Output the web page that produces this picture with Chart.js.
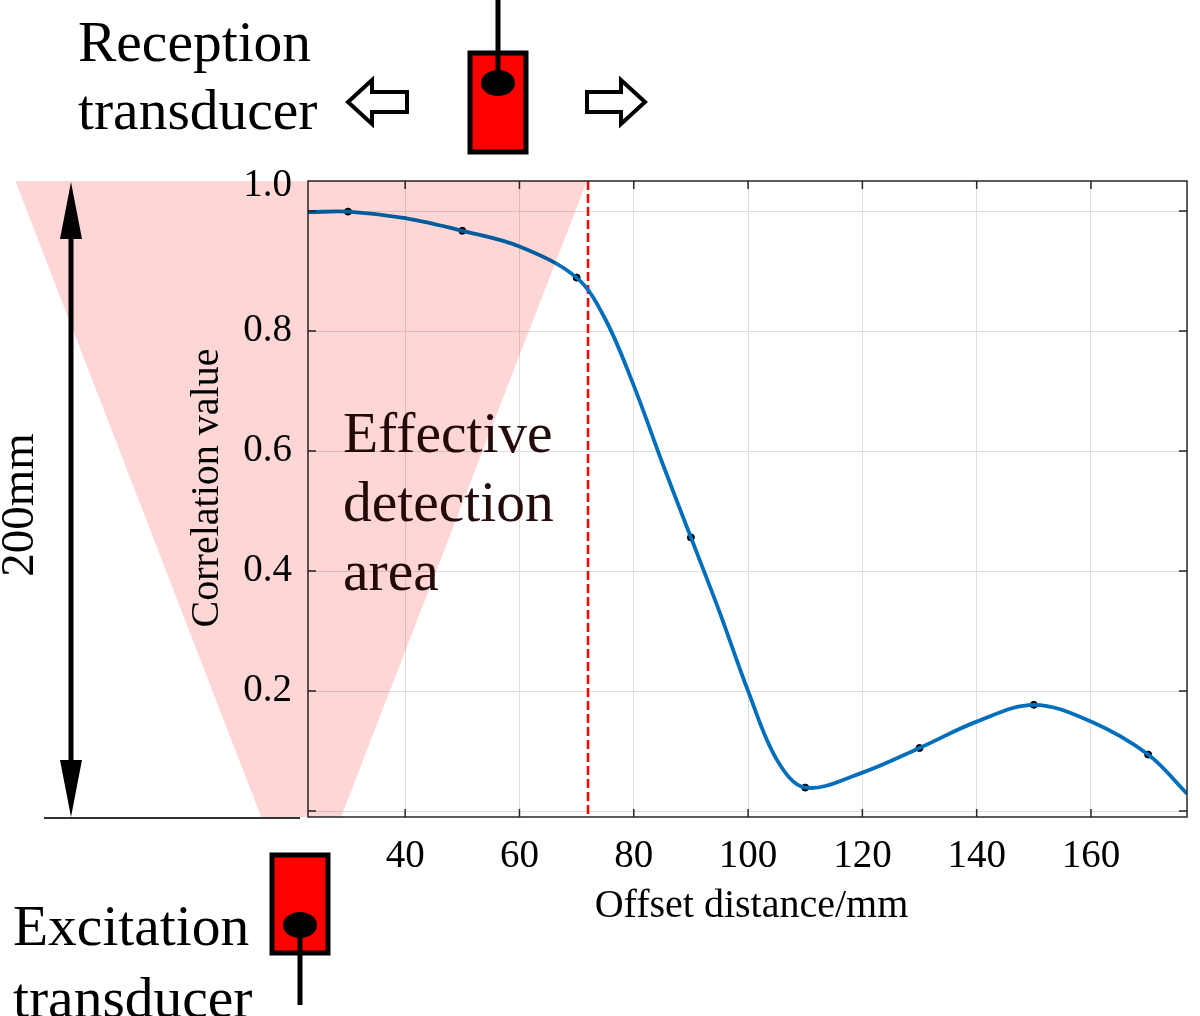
<!DOCTYPE html>
<html>
<head>
<meta charset="utf-8">
<script src="https://cdn.jsdelivr.net/npm/chart.js@4.4.0/dist/chart.umd.min.js"></script>
<style>
  body { margin: 0; background: #fff; }
  #wrap { width: 1200px; height: 1016px; }
</style>
</head>
<body>
<div id="wrap"><canvas id="myChart" width="1200" height="1016"></canvas></div>
<script>
// measured points (offset in mm, correlation value)
const offsetMm = [30, 50, 70, 90, 110, 130, 150, 170];
const correlation = [0.999, 0.967, 0.889, 0.456, 0.039, 0.105, 0.177, 0.094];

// fitted curve
const curveMm = [23, 30, 40, 50, 60, 70, 75, 80, 85, 90, 95, 100, 105, 110, 120, 130, 140, 150, 160, 170, 176.8];
const curveValue = [0.998, 0.999, 0.988, 0.967, 0.941, 0.889, 0.82, 0.709, 0.58, 0.456, 0.332, 0.2, 0.086, 0.039, 0.064, 0.105, 0.149, 0.177, 0.149, 0.094, 0.029];

const xTicks = [40, 60, 80, 100, 120, 140, 160];
const yTicks = [0, 0.2, 0.4, 0.6, 0.8, 1.0];
const yTickLabels = ['', '0.2', '0.4', '0.6', '0.8', ''];

const effectiveLimit = 72;   // mm, dashed red line
const serif = '"Liberation Serif", "Times New Roman", serif';
const axisColor = '#262626';

const drawTransducer = (ctx, x, top, bottom, dotY, lineFrom, lineTo) => {
    ctx.fillStyle = '#ff0000';
    ctx.fillRect(x - 28, top, 56, bottom - top);
    ctx.lineWidth = 5;
    ctx.strokeStyle = '#000';
    ctx.strokeRect(x - 28, top, 56, bottom - top);
    ctx.beginPath();
    ctx.moveTo(x, lineFrom);
    ctx.lineTo(x, lineTo);
    ctx.stroke();
    ctx.fillStyle = '#000';
    ctx.beginPath();
    ctx.ellipse(x, dotY, 17, 13, 0, 0, Math.PI * 2);
    ctx.fill();
}

const drawHollowArrow = (ctx, tipX, tailX, y) => {
    const dir = tailX > tipX ? 1 : -1;
    const headX = tipX + dir * 24;
    ctx.beginPath();
    ctx.moveTo(tipX, y);
    ctx.lineTo(headX, y - 22);
    ctx.lineTo(headX, y - 10);
    ctx.lineTo(tailX, y - 10);
    ctx.lineTo(tailX, y + 10);
    ctx.lineTo(headX, y + 10);
    ctx.lineTo(headX, y + 22);
    ctx.closePath();
    ctx.fillStyle = '#fff';
    ctx.fill();
    ctx.lineWidth = 4;
    ctx.lineJoin = 'miter';
    ctx.strokeStyle = '#000';
    ctx.stroke();
}

const decor = {
    id: 'decor',
    beforeDatasetsDraw(chart) {
        const {ctx, chartArea, scales} = chart;
        const x = scales.x.getPixelForValue(effectiveLimit);
        ctx.save();
        ctx.strokeStyle = '#ff0000';
        ctx.lineWidth = 2.5;
        ctx.setLineDash([9, 4]);
        ctx.beginPath();
        ctx.moveTo(x, chartArea.top);
        ctx.lineTo(x, chartArea.bottom);
        ctx.stroke();
        ctx.restore();
    },
    afterDraw(chart) {
        const {ctx, chartArea, scales} = chart;
        const {left, right, top, bottom} = chartArea;
        ctx.save();

        // axes box with inward ticks
        ctx.strokeStyle = axisColor;
        ctx.lineWidth = 1.5;
        ctx.strokeRect(left, top, right - left, bottom - top);
        ctx.beginPath();
        xTicks.forEach(v => {
            const px = scales.x.getPixelForValue(v);
            ctx.moveTo(px, bottom); ctx.lineTo(px, bottom - 8);
            ctx.moveTo(px, top); ctx.lineTo(px, top + 8);
        });
        yTicks.forEach(v => {
            const py = scales.y.getPixelForValue(v);
            ctx.moveTo(left, py); ctx.lineTo(left + 8, py);
            ctx.moveTo(right, py); ctx.lineTo(right - 8, py);
        });
        ctx.stroke();

        // the top tick label sits at the top edge
        ctx.fillStyle = '#000';
        ctx.font = '39px ' + serif;
        ctx.textAlign = 'right';
        ctx.textBaseline = 'middle';
        ctx.fillText('1.0', 292, top + 5);

        // axis titles
        ctx.textAlign = 'center';
        ctx.font = '40px ' + serif;
        ctx.fillText('Offset distance/mm', (left + right) / 2 + 4, 906);
        ctx.save();
        ctx.translate(207, 488);
        ctx.rotate(-Math.PI / 2);
        ctx.fillText('Correlation value', 0, 0);
        ctx.restore();

        // 200mm span arrow
        ctx.save();
        ctx.translate(21, 505);
        ctx.rotate(-Math.PI / 2);
        ctx.font = '47px ' + serif;
        ctx.fillText('200mm', 0, 0);
        ctx.restore();

        ctx.strokeStyle = '#000';
        ctx.lineWidth = 5;
        ctx.beginPath();
        ctx.moveTo(71, 230);
        ctx.lineTo(71, 770);
        ctx.stroke();
        ctx.fillStyle = '#000';
        ctx.beginPath();
        ctx.moveTo(71, top + 1); ctx.lineTo(60, top + 58); ctx.lineTo(82, top + 58); ctx.closePath();
        ctx.moveTo(71, bottom); ctx.lineTo(60, bottom - 57); ctx.lineTo(82, bottom - 57); ctx.closePath();
        ctx.fill();

        ctx.strokeStyle = '#333';
        ctx.lineWidth = 2;
        ctx.beginPath();
        ctx.moveTo(44, bottom + 1);
        ctx.lineTo(300, bottom + 1);
        ctx.stroke();

        // labels
        ctx.textAlign = 'left';
        ctx.textBaseline = 'alphabetic';
        ctx.font = '57.5px ' + serif;
        ctx.fillStyle = '#000';
        ctx.fillText('Reception', 78, 61);
        ctx.fillText('transducer', 78, 129);
        ctx.fillText('Excitation', 13, 945);
        ctx.fillText('transducer', 13, 1017);
        ctx.fillStyle = '#240a0a';
        ctx.fillText('Effective', 343, 452);
        ctx.fillText('detection', 343, 521);
        ctx.fillText('area', 343, 590);

        // transducers and moving arrows
        drawTransducer(ctx, 498, 53, 152, 83, 0, 83);
        drawTransducer(ctx, 300, 855, 953, 925, 925, 1005);
        drawHollowArrow(ctx, 348, 407, 102);
        drawHollowArrow(ctx, 645, 587, 102);

        // effective detection cone
        const cone = 21.8;
        ctx.globalCompositeOperation = 'multiply';
        ctx.fillStyle = '#ffd6d6';
        ctx.beginPath();
        ctx.moveTo(scales.x.getPixelForValue(cone - 50), top);
        ctx.lineTo(scales.x.getPixelForValue(cone + 50), top);
        ctx.lineTo(scales.x.getPixelForValue(cone + 7), bottom);
        ctx.lineTo(scales.x.getPixelForValue(cone - 7), bottom);
        ctx.closePath();
        ctx.fill();
        ctx.restore();
    }
};

const initCurve = () => {
    const ctx = document.getElementById('myChart');
    const tickFont = {family: serif, size: 39};

    new Chart(ctx, {
        type: 'line',
        data: {
            datasets: [
                {
                    label: 'Fit',
                    data: curveMm.map((x, i) => ({x: x, y: curveValue[i]})),
                    borderColor: 'rgb(0, 110, 186)',
                    borderWidth: 3.8,
                    pointRadius: 0,
                    tension: 0.35,
                    fill: false,
                },
                {
                    label: 'Measured',
                    type: 'scatter',
                    data: offsetMm.map((x, i) => ({x: x, y: correlation[i]})),
                    pointRadius: 3.5,
                    pointBackgroundColor: '#000',
                    pointBorderColor: '#000',
                    showLine: false,
                },
            ],
        },
        options: {
            responsive: false,
            animation: false,
            devicePixelRatio: 1,
            layout: {padding: {left: 180, top: 181, right: 13, bottom: 0}},
            plugins: {legend: {display: false}, tooltip: {enabled: false}},
            scales: {
                x: {
                    type: 'linear',
                    min: 23,
                    max: 176.8,
                    afterFit: (scale) => { scale.height = 199; },
                    afterBuildTicks: (scale) => { scale.ticks = xTicks.map(v => ({value: v})); },
                    grid: {color: '#dedede', lineWidth: 1, drawTicks: false},
                    border: {display: false},
                    ticks: {font: tickFont, color: '#000', padding: 16, maxRotation: 0},
                },
                y: {
                    min: -0.01,
                    max: 1.05,
                    afterFit: (scale) => { scale.width = 128; },
                    afterBuildTicks: (scale) => { scale.ticks = yTicks.map(v => ({value: v})); },
                    grid: {color: '#dedede', lineWidth: 1, drawTicks: false},
                    border: {display: false},
                    ticks: {
                        font: tickFont,
                        color: '#000',
                        padding: 16,
                        callback: (value, index) => yTickLabels[index],
                    },
                },
            },
        },
        plugins: [decor],
    });
}
initCurve()
</script>
</body>
</html>
